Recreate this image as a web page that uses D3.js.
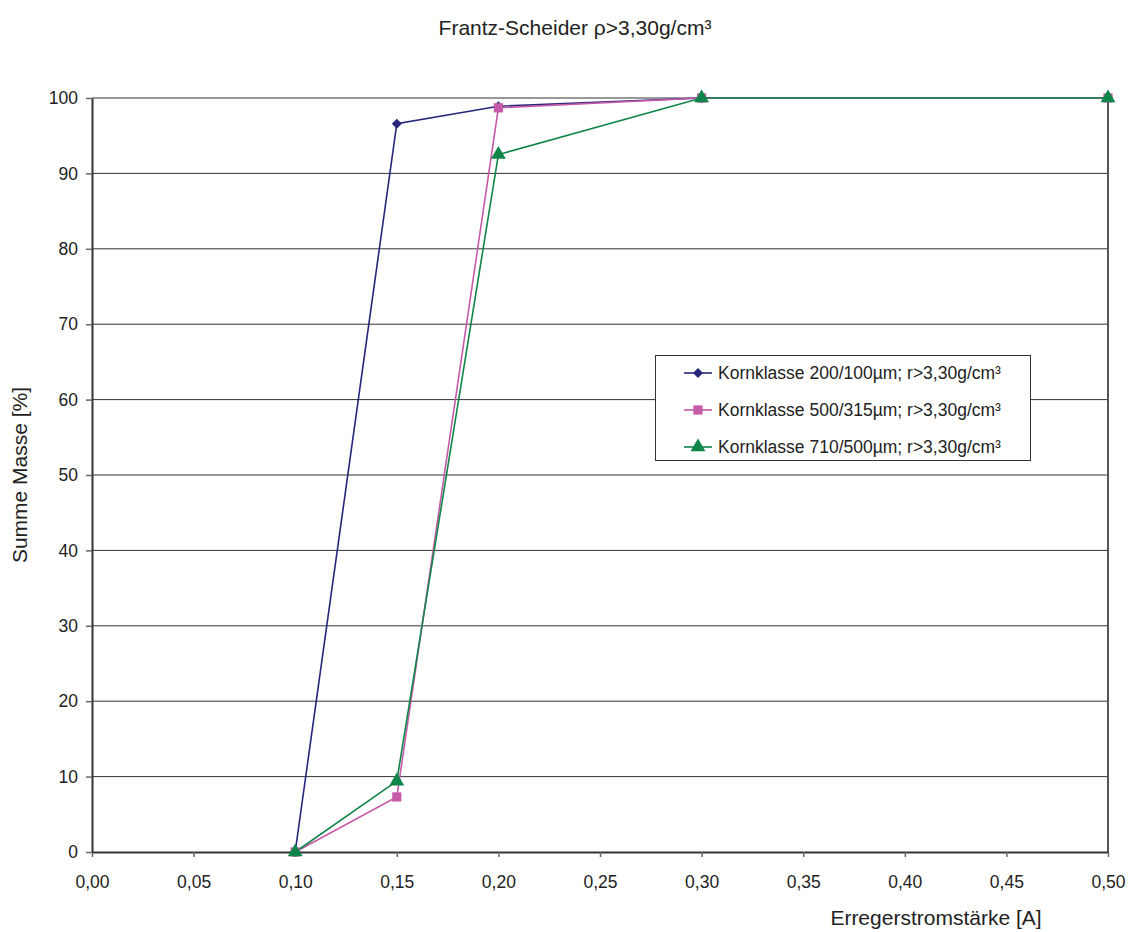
<!DOCTYPE html>
<html><head><meta charset="utf-8">
<script src="https://cdn.jsdelivr.net/npm/d3@7"></script>
<style>body{margin:0;background:#fff;} svg{display:block;font-family:"Liberation Sans",Arial,sans-serif;}</style>
</head><body>
<svg id="c" width="1130" height="932"></svg>
<script>
const xValues = [0.10, 0.15, 0.20, 0.30, 0.50];
const series200 = [0, 96.6, 98.9, 100, 100];
const series500 = [0, 7.3, 98.7, 100, 100];
const series710 = [0, 9.4, 92.5, 100, 100];
const seriesNames = ["Kornklasse 200/100µm; r>3,30g/cm³", "Kornklasse 500/315µm; r>3,30g/cm³", "Kornklasse 710/500µm; r>3,30g/cm³"];
const xTicks = [0,0.05,0.10,0.15,0.20,0.25,0.30,0.35,0.40,0.45,0.50];
const yTicks = [0,10,20,30,40,50,60,70,80,90,100];

const svg = d3.select("#c");
const x = d3.scaleLinear().domain([0,0.5]).range([92,1108]);
const y = d3.scaleLinear().domain([0,100]).range([852,98]);
const fmt = d => d.toFixed(2).replace(".", ",");

// title
svg.append("text").attr("x",575).attr("y",35).attr("text-anchor","middle")
  .attr("font-size",21).attr("fill","#222").text("Frantz-Scheider \u03C1>3,30g/cm³");

// gridlines
svg.append("g").selectAll("line").data(yTicks.filter(d=>d>0)).join("line")
  .attr("x1",x(0)).attr("x2",x(0.5)).attr("y1",d=>y(d)).attr("y2",d=>y(d))
  .attr("stroke","#333").attr("stroke-width",1);

// right border
svg.append("line").attr("x1",x(0.5)).attr("x2",x(0.5)).attr("y1",y(100)).attr("y2",y(0))
  .attr("stroke","#555").attr("stroke-width",2);

// axes
const xAxis = svg.append("g").attr("transform",`translate(0,${y(0)})`)
  .call(d3.axisBottom(x).tickValues(xTicks).tickFormat(fmt).tickSize(5).tickPadding(19).tickSizeOuter(0));
const yAxis = svg.append("g").attr("transform",`translate(${x(0)},0)`)
  .call(d3.axisLeft(y).tickValues(yTicks).tickSize(6).tickPadding(8).tickSizeOuter(0));
[xAxis,yAxis].forEach(a=>{
  a.select(".domain").attr("stroke","#333").attr("stroke-width",2);
  a.selectAll(".tick line").attr("stroke","#666").attr("stroke-width",1.5);
  a.selectAll("text").attr("font-size",17.5).attr("fill","#222").attr("font-family","Liberation Sans, Arial, sans-serif");
});

// axis labels
svg.append("text").attr("x",936).attr("y",925).attr("text-anchor","middle")
  .attr("font-size",21).attr("fill","#222").text("Erregerstromstärke [A]");
svg.append("text").attr("transform","translate(27,475) rotate(-90)").attr("text-anchor","middle")
  .attr("font-size",21).attr("fill","#222").text("Summe Masse [%]");

const colors = ["#26267a","#c55aa8","#10854a"];
const symbols = [d3.symbolSquare, d3.symbolSquare, d3.symbolTriangle];
const sizes = [50, 85, 95];
const rot = [45, 0, 0];
const allSeries = [series200, series500, series710];
const line = d3.line().x((d,i)=>x(xValues[i])).y(d=>y(d));

allSeries.forEach((s,k)=>{
  svg.append("path").datum(s).attr("d",line).attr("fill","none")
    .attr("stroke",colors[k]).attr("stroke-width",1.6);
});
allSeries.forEach((s,k)=>{
  svg.append("g").selectAll("path").data(s).join("path")
    .attr("transform",(d,i)=>`translate(${x(xValues[i])},${y(d)}) rotate(${rot[k]})`)
    .attr("d",d3.symbol().type(symbols[k]).size(sizes[k]))
    .attr("fill",colors[k]);
});

// legend
const lg = svg.append("g");
lg.append("rect").attr("x",655.5).attr("y",355.5).attr("width",375).attr("height",105)
  .attr("fill","#fff").attr("stroke","#333").attr("stroke-width",1);
seriesNames.forEach((n,k)=>{
  const yy = 373 + k*37;
  lg.append("line").attr("x1",684).attr("x2",712).attr("y1",yy).attr("y2",yy)
    .attr("stroke",colors[k]).attr("stroke-width",1.6);
  lg.append("path").attr("transform",`translate(698,${yy}) rotate(${rot[k]})`)
    .attr("d",d3.symbol().type(symbols[k]).size(sizes[k])).attr("fill",colors[k]);
  lg.append("text").attr("x",718).attr("y",yy+6).attr("font-size",17.5).attr("fill","#222").text(n);
});
</script>
</body></html>
